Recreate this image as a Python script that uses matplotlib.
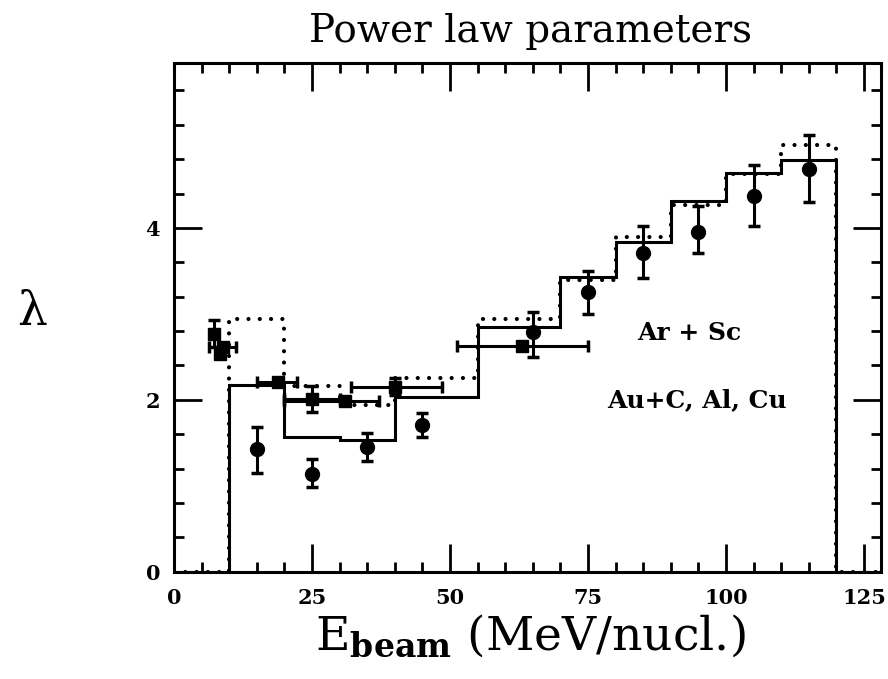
import matplotlib
matplotlib.use("Agg")
import matplotlib.pyplot as plt
import numpy as np
from matplotlib.ticker import MultipleLocator

plt.rcParams['mathtext.fontset'] = 'dejavuserif'

# ---------------- data ----------------
bin_edges = [0, 10, 20, 30, 40, 55, 70, 80, 90, 100, 110, 120, 128]
solid_hist = [0, 2.17, 1.57, 1.53, 2.03, 2.85, 3.43, 3.84, 4.31, 4.64, 4.79, 0]
dotted_hist = [0, 2.94, 2.16, 1.94, 2.25, 2.94, 3.39, 3.89, 4.27, 4.63, 4.97, 0]

# Ar + Sc (circles)
arsc_x = [15, 25, 35, 45, 65, 75, 85, 95, 105, 115]
arsc_y = [1.43, 1.14, 1.45, 1.71, 2.79, 3.25, 3.71, 3.95, 4.37, 4.69]
arsc_lo = [1.15, 0.99, 1.29, 1.57, 2.50, 3.00, 3.42, 3.71, 4.02, 4.30]
arsc_hi = [1.68, 1.31, 1.61, 1.85, 3.02, 3.50, 4.02, 4.26, 4.73, 5.08]

# Au + C, Al, Cu (squares)
au_x = [7.3, 8.8, 8.3, 18.8, 25.0, 31.0, 40.0, 63.0]
au_y = [2.77, 2.62, 2.53, 2.21, 2.01, 1.98, 2.15, 2.63]
au_xlo = [7.3, 6.4, 8.3, 15.0, 20.0, 20.0, 32.0, 51.2]
au_xhi = [7.3, 11.2, 8.3, 22.3, 30.0, 37.2, 48.5, 75.0]
au_ylo = [2.62, 2.62, 2.53, 2.21, 1.86, 1.98, 2.05, 2.63]
au_yhi = [2.93, 2.62, 2.53, 2.21, 2.16, 1.98, 2.25, 2.63]

x_ticks = [0, 25, 50, 75, 100, 125]
y_ticks = [0, 2, 4]

# ---------------- figure ----------------
fig = plt.figure(figsize=(8.88, 6.79), dpi=100)
ax = fig.add_axes([174/888, 1 - 571.6/679, 706.6/888, 508.6/679])

ax.stairs(dotted_hist, bin_edges, color='black', lw=3.0,
          linestyle=(0, (0.01, 2.7)), capstyle='round', zorder=2)
ax.stairs(solid_hist, bin_edges, color='black', lw=2.2, zorder=3)

ax.errorbar(arsc_x, arsc_y,
            yerr=[np.array(arsc_y) - np.array(arsc_lo), np.array(arsc_hi) - np.array(arsc_y)],
            fmt='o', color='black', ms=10, elinewidth=2.2, capsize=4.5, capthick=2.5, zorder=5)

ax.errorbar(au_x, au_y,
            xerr=[np.array(au_x) - np.array(au_xlo), np.array(au_xhi) - np.array(au_x)],
            yerr=[np.array(au_y) - np.array(au_ylo), np.array(au_yhi) - np.array(au_y)],
            fmt='s', color='black', ms=9, elinewidth=2.2, capsize=4.5, capthick=2.5, zorder=5)

ax.set_xlim(0, 128)
ax.set_ylim(0, 5.92)

ax.xaxis.set_major_locator(MultipleLocator(25))
ax.xaxis.set_minor_locator(MultipleLocator(5))
ax.set_yticks(y_ticks)
ax.yaxis.set_minor_locator(MultipleLocator(0.4))
ax.set_xticks(x_ticks)

ax.tick_params(which='both', direction='in', top=True, right=True, width=2)
ax.tick_params(which='major', length=20)
ax.tick_params(which='minor', length=7)
ax.tick_params(axis='x', which='major', pad=12)
ax.tick_params(axis='y', which='major', pad=10)
for lab in ax.get_xticklabels() + ax.get_yticklabels():
    lab.set_fontfamily('DejaVu Serif')
    lab.set_fontweight('bold')
    lab.set_fontsize(15)

for sp in ax.spines.values():
    sp.set_linewidth(2.2)

ax.text(93.3, 2.78, 'Ar + Sc', ha='center', va='center', fontsize=18,
        fontweight='bold', family='DejaVu Serif')
ax.text(94.7, 1.99, 'Au+C, Al, Cu', ha='center', va='center', fontsize=18,
        fontweight='bold', family='DejaVu Serif')

fig.text(530/888, 1 - 31/679, 'Power law parameters', ha='center', va='center',
         fontsize=28, family='DejaVu Serif')
fig.text(530/888, 1 - 636/679, r'E$_{\mathbf{beam}}$ (MeV/nucl.)', ha='center', va='center',
         fontsize=34, family='DejaVu Serif')
fig.text(32/888, 1 - 312/679, 'λ', ha='center', va='center', fontsize=34, family='DejaVu Serif')

fig.savefig('out.png', dpi=100)
